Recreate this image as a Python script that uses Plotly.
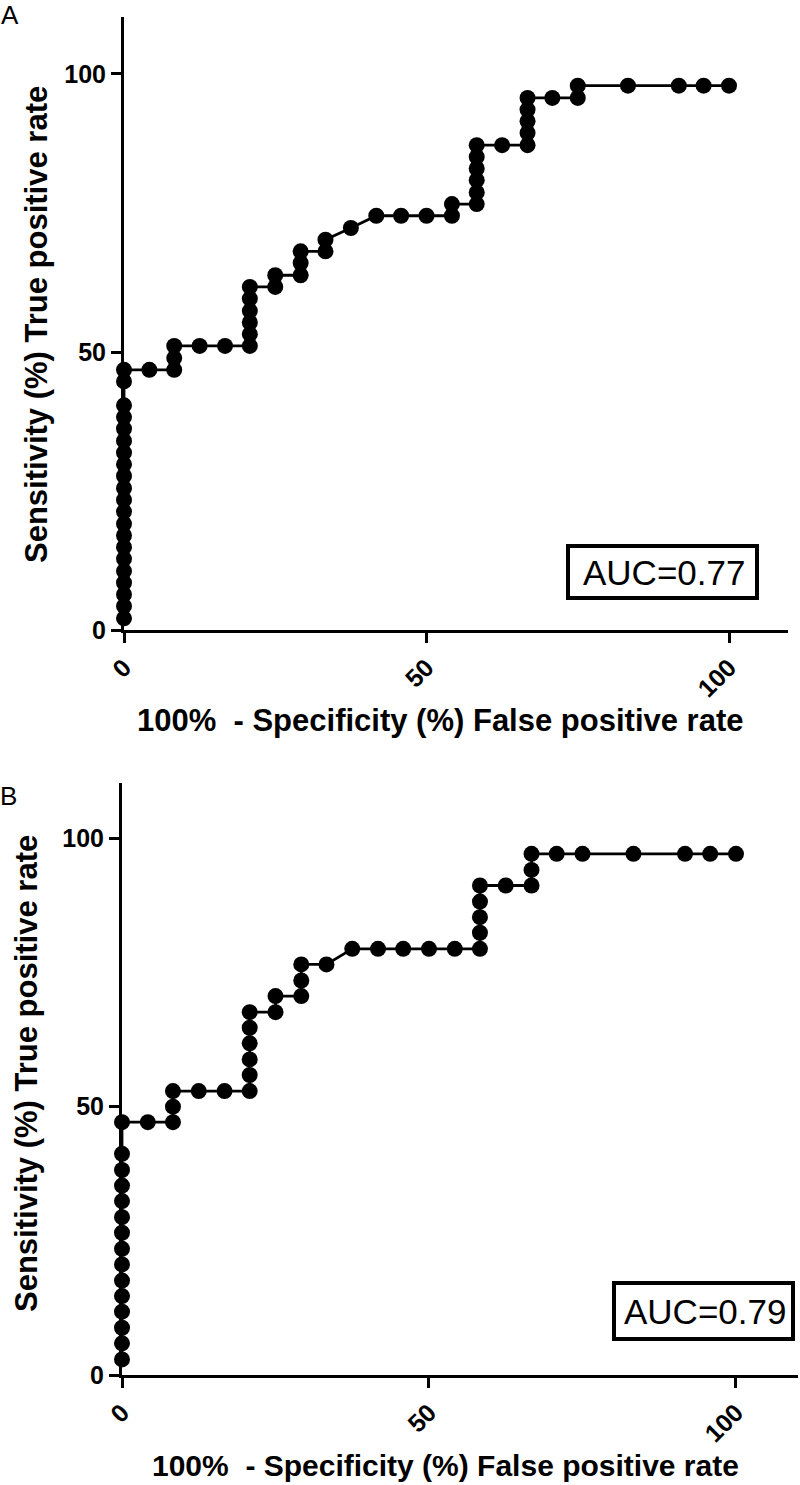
import plotly.graph_objects as go

# ---------------- data (percent) ----------------
# Panel A
fpr_a = [0, 0, 0, 0, 0, 0, 0, 0, 0, 0, 0, 0, 0, 0, 0, 0, 0, 0, 0, 0, 0,
         4.2,
         8.3, 8.3, 8.3,
         12.5, 16.7,
         20.8, 20.8, 20.8, 20.8, 20.8, 20.8,
         25.0, 25.0,
         29.2, 29.2, 29.2,
         33.3, 33.3,
         37.5,
         41.7, 45.8, 50.0,
         54.2, 54.2,
         58.3, 58.3, 58.3, 58.3, 58.3, 58.3,
         62.5,
         66.7, 66.7, 66.7, 66.7, 66.7,
         70.8,
         75.0, 75.0,
         83.3, 91.7, 95.8, 100.0]
tpr_a = [2.1, 4.3, 6.4, 8.5, 10.6, 12.8, 14.9, 17.0, 19.1, 21.3, 23.4, 25.5, 27.7,
         29.8, 31.9, 34.0, 36.2, 38.3, 40.4, 44.7, 46.8,
         46.8,
         46.8, 48.9, 51.1,
         51.1, 51.1,
         51.1, 53.2, 55.3, 57.4, 59.6, 61.7,
         61.7, 63.8,
         63.8, 66.0, 68.1,
         68.1, 70.2,
         72.3,
         74.5, 74.5, 74.5,
         74.5, 76.6,
         76.6, 78.7, 80.9, 83.0, 85.1, 87.2,
         87.2,
         87.2, 89.4, 91.5, 93.6, 95.7,
         95.7,
         95.7, 97.9,
         97.9, 97.9, 97.9, 97.9]

# Panel B
fpr_b = [0, 0, 0, 0, 0, 0, 0, 0, 0, 0, 0, 0, 0, 0, 0,
         4.2,
         8.3, 8.3, 8.3,
         12.5, 16.7,
         20.8, 20.8, 20.8, 20.8, 20.8, 20.8,
         25.0, 25.0,
         29.2, 29.2, 29.2,
         33.3,
         37.5, 41.7, 45.8, 50.0, 54.2,
         58.3, 58.3, 58.3, 58.3, 58.3,
         62.5,
         66.7, 66.7, 66.7,
         70.8, 75.0, 83.3, 91.7, 95.8, 100.0]
tpr_b = [2.9, 5.9, 8.8, 11.8, 14.7, 17.6, 20.6, 23.5, 26.5, 29.4, 32.4, 35.3,
         38.2, 41.2, 47.1,
         47.1,
         47.1, 50.0, 52.9,
         52.9, 52.9,
         52.9, 55.9, 58.8, 61.8, 64.7, 67.6,
         67.6, 70.6,
         70.6, 73.5, 76.5,
         76.5,
         79.4, 79.4, 79.4, 79.4, 79.4,
         79.4, 82.4, 85.3, 88.2, 91.2,
         91.2,
         91.2, 94.1, 97.1,
         97.1, 97.1, 97.1, 97.1, 97.1, 97.1]

tick_vals = [0, 50, 100]
tick_text = ["0", "50", "100"]
auc_labels = ["AUC=0.77", "AUC=0.79"]
panel_labels = ["A", "B"]
x_title = "100%&nbsp; - Specificity (%) False positive rate"
y_title = "Sensitivity (%) True positive rate"

# ---------------- layout helpers ----------------
W, H = 800, 1485
FONT = "Liberation Sans, Arial, Helvetica, sans-serif"


def px(x):
    return x / W


def py(y):
    return 1 - y / H


fig = go.Figure()
for xs, ys, xa, ya in [(fpr_a, tpr_a, "x", "y"), (fpr_b, tpr_b, "x2", "y2")]:
    fig.add_trace(go.Scatter(
        x=xs, y=ys, xaxis=xa, yaxis=ya, mode="lines+markers",
        line=dict(color="black", width=2.8),
        marker=dict(size=16, color="black"),
        cliponaxis=False, showlegend=False, hoverinfo="x+y"))

axis_common = dict(
    showline=True, linecolor="black", linewidth=3, mirror=False,
    ticks="outside", ticklen=10, tickwidth=3, tickcolor="black",
    showgrid=False, zeroline=False,
    tickmode="array", tickvals=tick_vals, ticktext=tick_text,
    tickfont=dict(family=FONT, size=25, color="black", weight="bold"),
    automargin=False, fixedrange=True,
)

fig.update_layout(
    width=W, height=H,
    margin=dict(l=0, r=0, t=0, b=0),
    paper_bgcolor="white", plot_bgcolor="white",
    xaxis=dict(axis_common, domain=[px(124), px(788)], range=[0, 109.75],
               anchor="y", tickangle=-45),
    yaxis=dict(axis_common, domain=[py(630), py(17)], range=[0, 110.25],
               anchor="x"),
    xaxis2=dict(axis_common, domain=[px(122), px(798)], range=[0, 110.1],
                anchor="y2", tickangle=-45),
    yaxis2=dict(axis_common, domain=[py(1375), py(783)], range=[0, 110.3],
                anchor="x2"),
)

annotations = []
shapes = []

# panel letters
for lbl, (lx, ly) in zip(panel_labels, [(10, 15), (8, 796)]):
    annotations.append(dict(
        text=lbl, x=px(lx), y=py(ly), xref="paper", yref="paper",
        xanchor="center", yanchor="middle", showarrow=False,
        font=dict(family=FONT, size=26, color="black")))

# axis titles
for (tx, ty, fs) in [(440, 720, 31), (445, 1465, 30)]:
    annotations.append(dict(
        text="<b>" + x_title + "</b>", x=px(tx), y=py(ty),
        xref="paper", yref="paper", xanchor="center", yanchor="middle",
        showarrow=False, font=dict(family=FONT, size=fs, color="black")))
for (tx, ty) in [(36, 325), (26, 1074)]:
    annotations.append(dict(
        text="<b>" + y_title + "</b>", x=px(tx), y=py(ty), textangle=-90,
        xref="paper", yref="paper", xanchor="center", yanchor="middle",
        showarrow=False, font=dict(family=FONT, size=31, color="black")))

# AUC boxes
for lbl, (x0, x1, y0, y1) in zip(auc_labels, [(568, 757, 546, 598),
                                              (614, 793, 1283, 1339)]):
    shapes.append(dict(type="rect", xref="paper", yref="paper",
                       x0=px(x0), x1=px(x1), y0=py(y1), y1=py(y0),
                       line=dict(color="black", width=4),
                       fillcolor="white"))
    annotations.append(dict(
        text=lbl, x=px((x0 + x1) / 2 + 1), y=py((y0 + y1) / 2),
        xref="paper", yref="paper", xanchor="center", yanchor="middle",
        showarrow=False, font=dict(family=FONT, size=35, color="black")))

fig.update_layout(annotations=annotations, shapes=shapes)

fig.write_html("out.html",
               config={"displayModeBar": False},
               post_script="document.body.style.margin='0px';"
                           "document.body.style.padding='0px';")
